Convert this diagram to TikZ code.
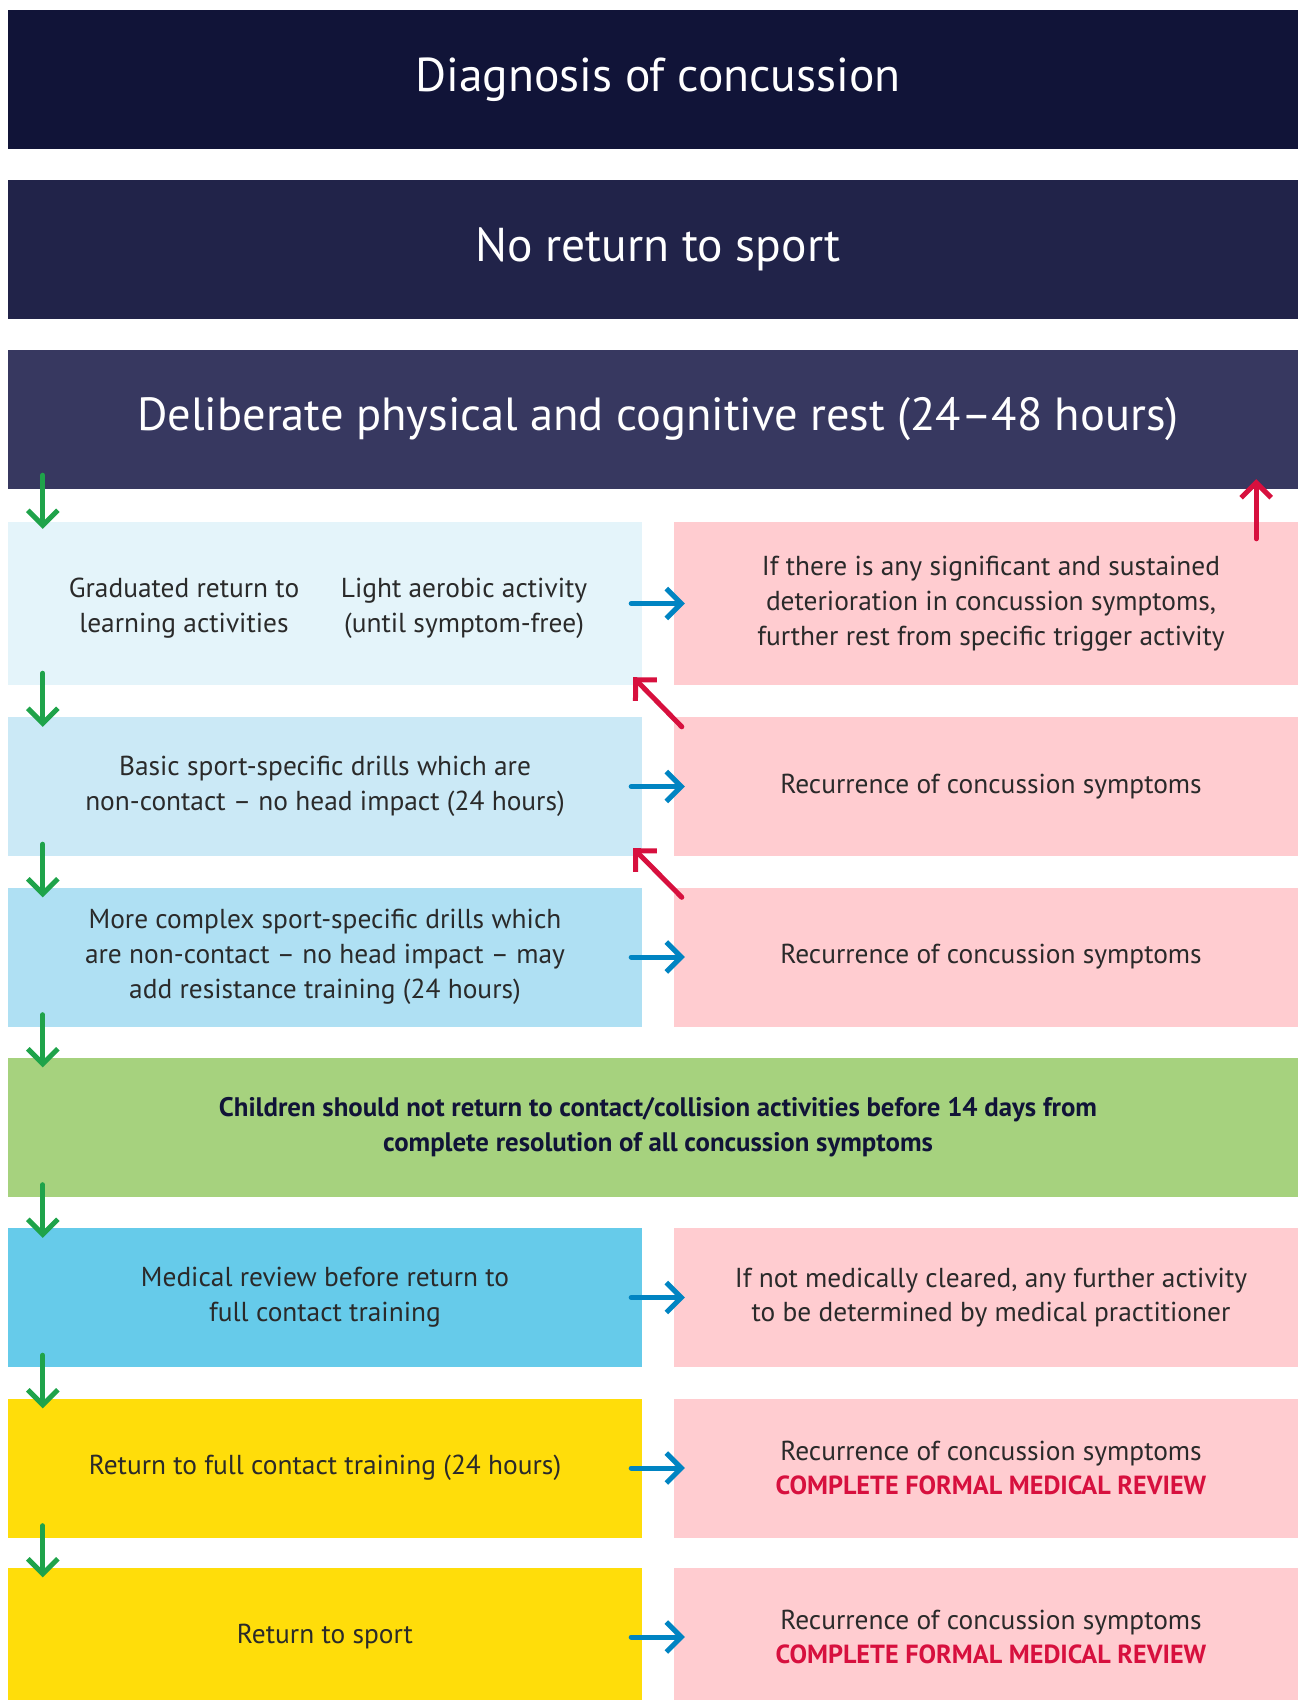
\documentclass[tikz,border=0pt]{standalone}
\usepackage{fontspec}
\setmainfont{PT Sans}
\usetikzlibrary{arrows.meta}
\definecolor{navyone}{HTML}{111438}
\definecolor{navytwo}{HTML}{212349}
\definecolor{navythree}{HTML}{373860}
\definecolor{blueone}{HTML}{E4F4FA}
\definecolor{bluetwo}{HTML}{CBE9F6}
\definecolor{bluethree}{HTML}{AFE0F3}
\definecolor{bluefour}{HTML}{66CBEA}
\definecolor{sun}{HTML}{FFDD0A}
\definecolor{blush}{HTML}{FFCCD0}
\definecolor{meadow}{HTML}{A6D27E}
\definecolor{inkgreen}{HTML}{1FA34A}
\definecolor{inkblue}{HTML}{0084C2}
\definecolor{inkred}{HTML}{D7103E}
\definecolor{inktext}{HTML}{2A2A2A}

\begin{document}
\begin{tikzpicture}[x=1pt,y=-1pt,
        band/.style={minimum width=1300pt, minimum height=139pt, inner sep=0pt, text=white, font=\fontsize{47.5}{56}\selectfont},
        stage/.style={minimum width=634pt, minimum height=139pt, inner sep=0pt, align=center, text=inktext, font=\fontsize{27.4}{34.7}\selectfont},
        alert/.style={stage, fill=blush},
        down/.style={draw=inkgreen, line width=5pt, line cap=round, line join=round, -{Straight Barb[length=15pt,width=30pt]}},
        side/.style={down, draw=inkblue},
        back/.style={down, draw=inkred}]
    \clip (0,0) rectangle (1298,1700);

    \node[band, fill=navyone] (diag) at (658,79.5) {Diagnosis of concussion};
    \node[band, fill=navytwo] (norts) at (658,249.5) {No return to sport};
    \node[band, fill=navythree, font=\fontsize{46.5}{56}\selectfont] (rest) at (658,419.5) {Deliberate physical and cognitive rest (24--48 hours)};

    \node[stage, fill=blueone, minimum height=163pt] (light) at (325,603.5) {};
    \node[stage] (learn) at (184,608) {Graduated return to\\learning activities};
    \node[stage] (aero) at (464,608) {Light aerobic activity\\(until symptom-free)};
    \node[alert, minimum height=163pt] (worse) at (991,603.5) {If there is any significant and sustained\\deterioration in concussion symptoms,\\further rest from specific trigger activity};

    \node[stage, fill=bluetwo] (basic) at (325,786.5) {Basic sport-specific drills which are\\non-contact -- no head impact (24 hours)};
    \node[alert] (recura) at (991,786.5) {Recurrence of concussion symptoms};

    \node[stage, fill=bluethree] (complex) at (325,957) {More complex sport-specific drills which\\are non-contact -- no head impact -- may\\add resistance training (24 hours)};
    \node[alert] (recurb) at (991,957) {Recurrence of concussion symptoms};

    \node[band, fill=meadow, text=navyone, font=\bfseries\fontsize{26.8}{34.7}\selectfont, align=center] (kids) at (658,1127) {Children should not return to contact/collision activities before 14 days from\\complete resolution of all concussion symptoms};

    \node[stage, fill=bluefour] (review) at (325,1297.5) {Medical review before return to\\full contact training};
    \node[alert] (cleared) at (991,1297.5) {If not medically cleared, any further activity\\to be determined by medical practitioner};

    \node[stage, fill=sun] (full) at (325,1468) {Return to full contact training (24 hours)};
    \node[alert] (recurc) at (991,1468) {Recurrence of concussion symptoms\\\textcolor{inkred}{\bfseries\fontsize{26.2}{34.7}\selectfont COMPLETE FORMAL MEDICAL REVIEW}};

    \node[stage, fill=sun] (sport) at (325,1637) {Return to sport};
    \node[alert] (recurd) at (991,1637) {Recurrence of concussion symptoms\\\textcolor{inkred}{\bfseries\fontsize{26.2}{34.7}\selectfont COMPLETE FORMAL MEDICAL REVIEW}};

    \draw[down] ([xshift=35,yshift=14]rest.south west) -- ([xshift=35,yshift=-7]light.north west);
    \draw[down] ([xshift=35,yshift=12]light.south west) -- ([xshift=35,yshift=-10]basic.north west);
    \draw[down] ([xshift=35,yshift=12]basic.south west) -- ([xshift=35,yshift=-10]complex.north west);
    \draw[down] ([xshift=35,yshift=12]complex.south west) -- ([xshift=35,yshift=-10]kids.north west);
    \draw[down] ([xshift=35,yshift=12]kids.south west) -- ([xshift=35,yshift=-10]review.north west);
    \draw[down] ([xshift=35,yshift=12]review.south west) -- ([xshift=35,yshift=-10]full.north west);
    \draw[down] ([xshift=35,yshift=12]full.south west) -- ([xshift=35,yshift=-10]sport.north west);

    \draw[side] ([xshift=-11]light.east) -- ([xshift=11]worse.west);
    \draw[side] ([xshift=-11]basic.east) -- ([xshift=11]recura.west);
    \draw[side] ([xshift=-11]complex.east) -- ([xshift=11]recurb.west);
    \draw[side] ([xshift=-11]review.east) -- ([xshift=11]cleared.west);
    \draw[side] ([xshift=-11]full.east) -- ([xshift=11]recurc.west);
    \draw[side] ([xshift=-11]sport.east) -- ([xshift=11]recurd.west);

    \draw[back] ([xshift=-52,yshift=-17]worse.north east) -- ([xshift=-52,yshift=10]rest.south east);
    \draw[back] ([xshift=8,yshift=-10]recura.north west) -- ([xshift=-9,yshift=8]light.south east);
    \draw[back] ([xshift=8,yshift=-10]recurb.north west) -- ([xshift=-9,yshift=8]basic.south east);
\end{tikzpicture}
\end{document}
